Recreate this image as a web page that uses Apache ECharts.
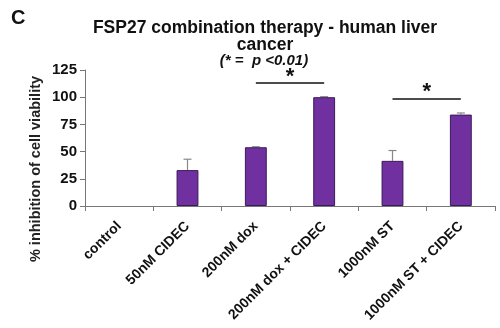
<!DOCTYPE html>
<html><head><meta charset="utf-8">
<script src="https://cdn.jsdelivr.net/npm/echarts@6/dist/echarts.min.js"></script>
<style>html,body{margin:0;padding:0;background:#fff}#c{width:500px;height:328px}</style>
</head><body><div id="c"></div>
<script>
const categories = ['control','50nM CIDEC','200nM dox','200nM dox + CIDEC','1000nM ST','1000nM ST + CIDEC'];
const values = [0, 33, 54, 100, 41.5, 84];
const errors = [0, 10, 0.5, 0.5, 9.5, 1.5];
const yTicks = [0, 25, 50, 75, 100, 125];
const sig1 = {from: '200nM dox', to: '200nM dox + CIDEC', y: 113.5};
const sig2 = {from: '1000nM ST', to: '1000nM ST + CIDEC', y: 99};

const FONT = 'Liberation Sans, Arial, sans-serif';
const chart = echarts.init(document.getElementById('c'));
chart.setOption({
  animation: false,
  backgroundColor: '#fff',
  title: [
    {text: 'FSP27 combination therapy - human liver\ncancer', left: 260, textAlign: 'center', top: 15,
     textStyle: {fontFamily: FONT, fontWeight: 'bold', fontSize: 17.5, lineHeight: 17, color: '#111'}},
    {text: '(* =  p <0.01)', left: 259, textAlign: 'center', top: 48,
     textStyle: {fontFamily: FONT, fontWeight: 'bold', fontStyle: 'italic', fontSize: 15, color: '#111'}},
    {text: 'C', left: 6, top: 3, textStyle: {fontFamily: FONT, fontWeight: 'bold', fontSize: 20, color: '#111'}}
  ],
  graphic: [{
    type: 'text', x: 36, y: 169, rotation: Math.PI / 2,
    style: {text: '% inhibition of cell viability', fontFamily: FONT, fontWeight: 'bold', fontSize: 14.5,
      fill: '#222', textAlign: 'center', textVerticalAlign: 'middle'}
  }],
  grid: {left: 85, right: 5, top: 70, bottom: 122},
  xAxis: {
    type: 'category', data: categories,
    axisLine: {lineStyle: {color: '#777', width: 1}},
    axisTick: {show: true, length: 5, lineStyle: {color: '#777'}},
    axisLabel: {rotate: 45, interval: 0, margin: 18, fontFamily: FONT, fontWeight: 'bold', fontSize: 14, color: '#111'}
  },
  yAxis: {
    type: 'value', min: 0, max: 125, interval: 25,
    axisLine: {show: true, lineStyle: {color: '#777', width: 1}},
    axisTick: {show: true, length: 5, lineStyle: {color: '#777'}},
    splitLine: {show: false},
    axisLabel: {fontFamily: FONT, fontWeight: 'bold', fontSize: 15, color: '#111', margin: 8,
      formatter: v => yTicks.includes(v) ? String(v) : ''}
  },
  series: [
    {
      type: 'bar', data: values.map(v => v || '-'), barWidth: '32%',
      itemStyle: {color: '#7030a0', borderColor: '#3a1a58', borderWidth: 1},
      markLine: {
        silent: true, symbol: 'none',
        lineStyle: {color: '#111', width: 1.5, type: 'solid'},
        label: {show: true, position: 'insideMiddleTop', formatter: '*', fontFamily: FONT, fontWeight: 'bold', fontSize: 22, color: '#111', distance: [0, -5]},
        data: [
          [{coord: [sig1.from, sig1.y]}, {coord: [sig1.to, sig1.y]}],
          [{coord: [sig2.from, sig2.y]}, {coord: [sig2.to, sig2.y]}]
        ]
      }
    },
    {
      type: 'custom', data: values.map((v, i) => [i, v, errors[i]]),
      z: 1,
      renderItem: function (params, api) {
        const i = api.value(0), v = api.value(1), e = api.value(2);
        if (!v) return;
        const p0 = api.coord([i, v]);
        const p1 = api.coord([i, v + e]);
        const w = 4;
        return {type: 'group', children: [
          {type: 'line', shape: {x1: p0[0], y1: p0[1], x2: p1[0], y2: p1[1]}, style: {stroke: '#888', lineWidth: 1.2}},
          {type: 'line', shape: {x1: p1[0] - w, y1: p1[1], x2: p1[0] + w, y2: p1[1]}, style: {stroke: '#888', lineWidth: 1.2}}
        ]};
      }
    }
  ]
});
</script></body></html>
